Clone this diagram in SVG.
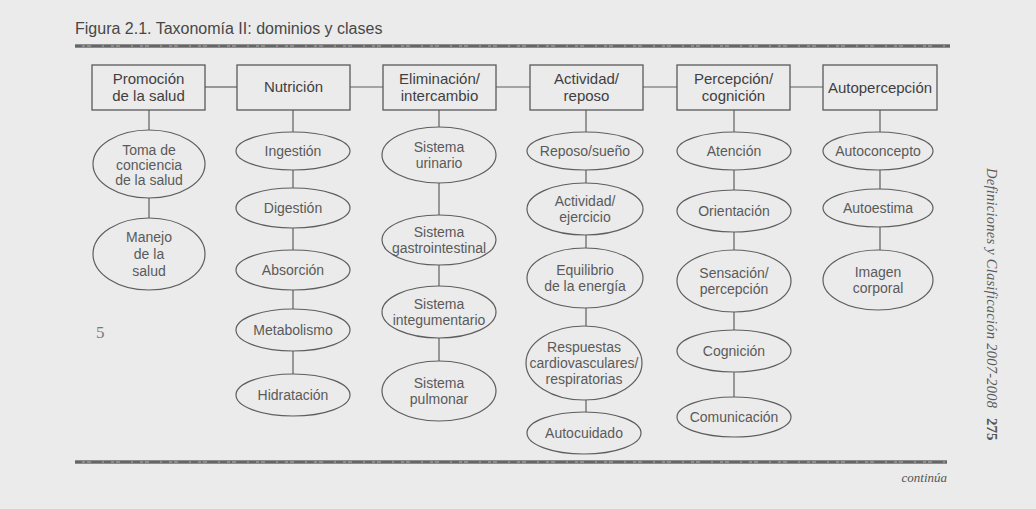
<svg xmlns="http://www.w3.org/2000/svg" width="1036" height="509" viewBox="0 0 1036 509">
<style>
.box{fill:none;stroke:#5a5a5a;stroke-width:1.3}
.cls{fill:none;stroke:#5e5e5e;stroke-width:1.2}
.bt{font-family:"Liberation Sans",Arial,sans-serif;font-size:15px;fill:#3f3f3f;text-anchor:middle}
.et{font-family:"Liberation Sans",Arial,sans-serif;font-size:14px;fill:#5a5a5a;text-anchor:middle}
#connectors line{stroke:#5e5e5e;stroke-width:1.2}
.band{fill:#8c8c8c}
.bandt{stroke:#5a5a5a;stroke-width:1.6;stroke-dasharray:7 3 2 4 11 2}
</style>
<rect x="0" y="0" width="1036" height="509" fill="#ebebeb"/>
<text x="75" y="34" font-family="Liberation Sans, Arial, sans-serif" font-size="16" fill="#474747">Figura 2.1.  Taxonomía II: dominios y clases</text>
<rect class="band" x="75" y="44" width="875" height="4"/>
<line class="bandt" x1="75" y1="46" x2="950" y2="46"/>
<rect class="band" x="75" y="460" width="872" height="4"/>
<line class="bandt" x1="75" y1="462" x2="947" y2="462"/>
<text x="947" y="482" font-family="Liberation Serif, serif" font-style="italic" font-size="13" fill="#555" text-anchor="end">continúa</text>
<text transform="translate(987,168) rotate(90)" font-family="Liberation Serif, serif" font-style="italic" font-size="14.5" fill="#5a5a5a" textLength="240">Definiciones y Clasificación 2007-2008</text>
<text transform="translate(987,418) rotate(90)" font-family="Liberation Serif, serif" font-weight="bold" font-size="15" fill="#555">275</text>
<text x="96" y="338" font-family="Liberation Serif, serif" font-size="17" fill="#7a7a7a">5</text>

<g id="connectors">
<line x1="205" y1="87" x2="237" y2="87"/>
<line x1="350" y1="87" x2="383" y2="87"/>
<line x1="496" y1="87" x2="530" y2="87"/>
<line x1="643" y1="87" x2="677" y2="87"/>
<line x1="790" y1="87" x2="823" y2="87"/>
<line x1="149" y1="110" x2="149" y2="130"/>
<line x1="149" y1="198" x2="149" y2="218"/>
<line x1="293" y1="110" x2="293" y2="132"/>
<line x1="293" y1="170" x2="293" y2="188"/>
<line x1="293" y1="228" x2="293" y2="250"/>
<line x1="293" y1="290" x2="293" y2="309"/>
<line x1="293" y1="351" x2="293" y2="374"/>
<line x1="439" y1="110" x2="439" y2="127"/>
<line x1="439" y1="183" x2="439" y2="215"/>
<line x1="439" y1="265" x2="439" y2="286"/>
<line x1="439" y1="338" x2="439" y2="361"/>
<line x1="586" y1="110" x2="586" y2="132"/>
<line x1="586" y1="170" x2="586" y2="183"/>
<line x1="586" y1="235" x2="586" y2="248"/>
<line x1="586" y1="308" x2="586" y2="326"/>
<line x1="586" y1="400" x2="586" y2="412"/>
<line x1="734" y1="110" x2="734" y2="132"/>
<line x1="734" y1="170" x2="734" y2="190"/>
<line x1="734" y1="232" x2="734" y2="250"/>
<line x1="734" y1="312" x2="734" y2="330"/>
<line x1="734" y1="372" x2="734" y2="397"/>
<line x1="880" y1="110" x2="880" y2="132"/>
<line x1="880" y1="170" x2="880" y2="189"/>
<line x1="880" y1="227" x2="880" y2="250"/>
</g>

<g id="d-promocion"><rect class="box" x="92" y="65" width="113" height="45"/><text class="bt" x="148.5" y="84">Promoción</text><text class="bt" x="148.5" y="101">de la salud</text></g>
<g id="d-nutricion"><rect class="box" x="237" y="65" width="113" height="45"/><text class="bt" x="293.5" y="92">Nutrición</text></g>
<g id="d-eliminacion"><rect class="box" x="383" y="65" width="113" height="45"/><text class="bt" x="439.5" y="84">Eliminación/</text><text class="bt" x="439.5" y="101">intercambio</text></g>
<g id="d-actividad"><rect class="box" x="530" y="65" width="113" height="45"/><text class="bt" x="586.5" y="84">Actividad/</text><text class="bt" x="586.5" y="101">reposo</text></g>
<g id="d-percepcion"><rect class="box" x="677" y="65" width="113" height="45"/><text class="bt" x="733.5" y="84">Percepción/</text><text class="bt" x="733.5" y="101">cognición</text></g>
<g id="d-autopercepcion"><rect class="box" x="823" y="65" width="114" height="45"/><text class="bt" x="880" y="93">Autopercepción</text></g>

<g id="c-toma"><ellipse class="cls" cx="149" cy="164" rx="56" ry="34"/><text class="et" x="149" y="155">Toma de</text><text class="et" x="149" y="170">conciencia</text><text class="et" x="149" y="185">de la salud</text></g>
<g id="c-manejo"><ellipse class="cls" cx="149" cy="254" rx="56" ry="36"/><text class="et" x="149" y="242">Manejo</text><text class="et" x="149" y="259">de la</text><text class="et" x="149" y="276">salud</text></g>

<g id="c-ingestion"><ellipse class="cls" cx="293" cy="151" rx="57" ry="19"/><text class="et" x="293" y="156">Ingestión</text></g>
<g id="c-digestion"><ellipse class="cls" cx="293" cy="208" rx="57" ry="20"/><text class="et" x="293" y="213">Digestión</text></g>
<g id="c-absorcion"><ellipse class="cls" cx="293" cy="270" rx="57" ry="20"/><text class="et" x="293" y="275">Absorción</text></g>
<g id="c-metabolismo"><ellipse class="cls" cx="293" cy="330" rx="57" ry="21"/><text class="et" x="293" y="335">Metabolismo</text></g>
<g id="c-hidratacion"><ellipse class="cls" cx="293" cy="395" rx="57" ry="21"/><text class="et" x="293" y="400">Hidratación</text></g>

<g id="c-urinario"><ellipse class="cls" cx="439" cy="155" rx="57" ry="28"/><text class="et" x="439" y="152">Sistema</text><text class="et" x="439" y="168">urinario</text></g>
<g id="c-gastro"><ellipse class="cls" cx="439" cy="240" rx="57" ry="25"/><text class="et" x="439" y="237">Sistema</text><text class="et" x="439" y="253">gastrointestinal</text></g>
<g id="c-integumentario"><ellipse class="cls" cx="439" cy="312" rx="57" ry="26"/><text class="et" x="439" y="309">Sistema</text><text class="et" x="439" y="325">integumentario</text></g>
<g id="c-pulmonar"><ellipse class="cls" cx="439" cy="391" rx="57" ry="30"/><text class="et" x="439" y="388">Sistema</text><text class="et" x="439" y="404">pulmonar</text></g>

<g id="c-reposo"><ellipse class="cls" cx="585" cy="151" rx="58" ry="19"/><text class="et" x="585" y="156">Reposo/sueño</text></g>
<g id="c-actividad"><ellipse class="cls" cx="585" cy="209" rx="58" ry="26"/><text class="et" x="585" y="206">Actividad/</text><text class="et" x="585" y="222">ejercicio</text></g>
<g id="c-equilibrio"><ellipse class="cls" cx="585" cy="278" rx="58" ry="30"/><text class="et" x="585" y="275">Equilibrio</text><text class="et" x="585" y="291">de la energía</text></g>
<g id="c-respuestas"><ellipse class="cls" cx="584" cy="363" rx="58" ry="37"/><text class="et" x="584" y="352">Respuestas</text><text class="et" x="584" y="368">cardiovasculares/</text><text class="et" x="584" y="384">respiratorias</text></g>
<g id="c-autocuidado"><ellipse class="cls" cx="584" cy="433" rx="57" ry="21"/><text class="et" x="584" y="438">Autocuidado</text></g>

<g id="c-atencion"><ellipse class="cls" cx="734" cy="151" rx="57" ry="19"/><text class="et" x="734" y="156">Atención</text></g>
<g id="c-orientacion"><ellipse class="cls" cx="734" cy="211" rx="57" ry="21"/><text class="et" x="734" y="216">Orientación</text></g>
<g id="c-sensacion"><ellipse class="cls" cx="734" cy="281" rx="57" ry="31"/><text class="et" x="734" y="278">Sensación/</text><text class="et" x="734" y="294">percepción</text></g>
<g id="c-cognicion"><ellipse class="cls" cx="734" cy="351" rx="57" ry="21"/><text class="et" x="734" y="356">Cognición</text></g>
<g id="c-comunicacion"><ellipse class="cls" cx="734" cy="417" rx="57" ry="20"/><text class="et" x="734" y="422">Comunicación</text></g>

<g id="c-autoconcepto"><ellipse class="cls" cx="878" cy="151" rx="55" ry="19"/><text class="et" x="878" y="156">Autoconcepto</text></g>
<g id="c-autoestima"><ellipse class="cls" cx="878" cy="208" rx="55" ry="19"/><text class="et" x="878" y="213">Autoestima</text></g>
<g id="c-imagen"><ellipse class="cls" cx="878" cy="280" rx="55" ry="30"/><text class="et" x="878" y="277">Imagen</text><text class="et" x="878" y="293">corporal</text></g>
</svg>
